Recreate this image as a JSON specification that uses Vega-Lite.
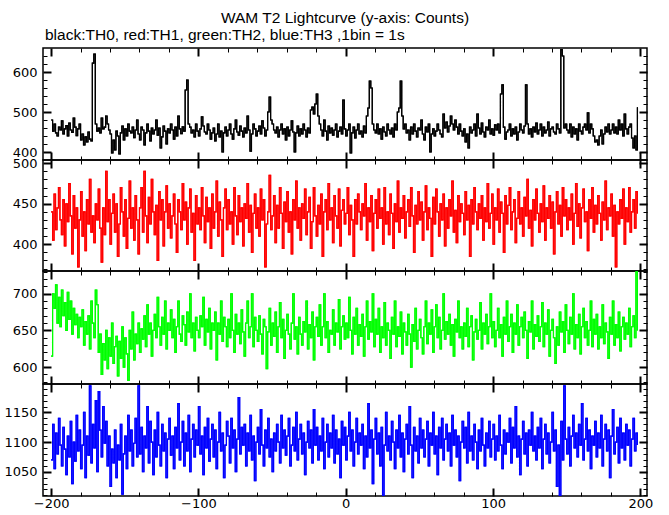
{
"$schema": "https://vega.github.io/schema/vega-lite/v6.json",
"padding": {"left": 3, "top": 11, "right": 5, "bottom": 0},
"background": "white",
"bounds": "flush",
"title": {"text": "WAM T2 Lightcurve (y-axis: Counts)", "anchor": "middle", "frame": "group", "font": "Liberation Sans", "fontSize": 15.5, "fontWeight": "normal", "color": "black", "offset": 0},
"data": {"values": [
{"t":-200,"a":480,"b":440,"c":615,"d":1070},{"t":-199,"a":452,"b":405,"c":700,"d":1130},{"t":-198,"a":470,"b":462,"c":680,"d":1055},{"t":-197,"a":448,"b":418,"c":712,"d":1115},{"t":-196,"a":440,"b":445,"c":660,"d":1080},{"t":-195,"a":462,"b":470,"c":695,"d":1140},{"t":-194,"a":455,"b":430,"c":655,"d":1095},{"t":-193,"a":478,"b":412,"c":705,"d":1060},{"t":-192,"a":445,"b":455,"c":670,"d":1125},{"t":-191,"a":458,"b":398,"c":688,"d":1088},
{"t":-190,"a":466,"b":450,"c":650,"d":1045},{"t":-189,"a":440,"b":428,"c":702,"d":1110},{"t":-188,"a":472,"b":475,"c":665,"d":1075},{"t":-187,"a":455,"b":435,"c":690,"d":1135},{"t":-186,"a":449,"b":388,"c":645,"d":1030},{"t":-185,"a":485,"b":460,"c":680,"d":1100},{"t":-184,"a":462,"b":420,"c":658,"d":1068},{"t":-183,"a":441,"b":445,"c":672,"d":1145},{"t":-182,"a":458,"b":372,"c":640,"d":1085},{"t":-181,"a":470,"b":430,"c":668,"d":1120},
{"t":-180,"a":430,"b":465,"c":655,"d":1055},{"t":-179,"a":445,"b":410,"c":678,"d":1095},{"t":-178,"a":418,"b":440,"c":630,"d":1150},{"t":-177,"a":438,"b":392,"c":662,"d":1040},{"t":-176,"a":425,"b":455,"c":645,"d":1110},{"t":-175,"a":450,"b":425,"c":670,"d":1078},{"t":-174,"a":432,"b":480,"c":625,"d":1195},{"t":-173,"a":428,"b":415,"c":690,"d":1065},{"t":-172,"a":622,"b":435,"c":660,"d":1130},{"t":-171,"a":645,"b":402,"c":640,"d":1090},
{"t":-170,"a":470,"b":450,"c":705,"d":1170},{"t":-169,"a":452,"b":430,"c":685,"d":1050},{"t":-168,"a":460,"b":468,"c":620,"d":1185},{"t":-167,"a":448,"b":420,"c":645,"d":1120},{"t":-166,"a":485,"b":378,"c":590,"d":1075},{"t":-165,"a":458,"b":445,"c":632,"d":1160},{"t":-164,"a":462,"b":412,"c":610,"d":1098},{"t":-163,"a":490,"b":490,"c":650,"d":1135},{"t":-162,"a":470,"b":428,"c":598,"d":1060},{"t":-161,"a":455,"b":455,"c":640,"d":1110},
{"t":-160,"a":445,"b":400,"c":615,"d":1025},{"t":-159,"a":398,"b":438,"c":660,"d":1088},{"t":-158,"a":430,"b":462,"c":605,"d":1065},{"t":-157,"a":405,"b":415,"c":628,"d":1120},{"t":-156,"a":452,"b":450,"c":642,"d":1040},{"t":-155,"a":440,"b":385,"c":588,"d":1095},{"t":-154,"a":395,"b":425,"c":635,"d":1070},{"t":-153,"a":448,"b":470,"c":612,"d":1130},{"t":-152,"a":465,"b":440,"c":655,"d":1012},{"t":-151,"a":430,"b":410,"c":600,"d":1080},
{"t":-150,"a":458,"b":455,"c":640,"d":1110},{"t":-149,"a":440,"b":395,"c":618,"d":1055},{"t":-148,"a":470,"b":432,"c":582,"d":1145},{"t":-147,"a":452,"b":478,"c":650,"d":1085},{"t":-146,"a":448,"b":420,"c":625,"d":1120},{"t":-145,"a":462,"b":445,"c":675,"d":1060},{"t":-144,"a":436,"b":405,"c":610,"d":1098},{"t":-143,"a":455,"b":460,"c":645,"d":1140},{"t":-142,"a":480,"b":430,"c":632,"d":1075},{"t":-141,"a":445,"b":388,"c":660,"d":1195},
{"t":-140,"a":430,"b":445,"c":620,"d":1080},{"t":-139,"a":462,"b":470,"c":652,"d":1125},{"t":-138,"a":455,"b":415,"c":638,"d":1050},{"t":-137,"a":418,"b":490,"c":670,"d":1110},{"t":-136,"a":448,"b":435,"c":628,"d":1090},{"t":-135,"a":470,"b":402,"c":685,"d":1160},{"t":-134,"a":452,"b":458,"c":645,"d":1065},{"t":-133,"a":428,"b":425,"c":660,"d":1135},{"t":-132,"a":460,"b":480,"c":615,"d":1100},{"t":-131,"a":445,"b":440,"c":650,"d":1045},
{"t":-130,"a":455,"b":412,"c":672,"d":1120},{"t":-129,"a":480,"b":448,"c":640,"d":1075},{"t":-128,"a":442,"b":380,"c":695,"d":1150},{"t":-127,"a":460,"b":465,"c":655,"d":1095},{"t":-126,"a":410,"b":430,"c":630,"d":1060},{"t":-125,"a":438,"b":455,"c":668,"d":1130},{"t":-124,"a":465,"b":398,"c":645,"d":1085},{"t":-123,"a":452,"b":440,"c":690,"d":1115},{"t":-122,"a":420,"b":472,"c":625,"d":1040},{"t":-121,"a":458,"b":420,"c":660,"d":1105},
{"t":-120,"a":448,"b":450,"c":650,"d":1140},{"t":-119,"a":470,"b":408,"c":678,"d":1078},{"t":-118,"a":455,"b":435,"c":640,"d":1110},{"t":-117,"a":432,"b":462,"c":665,"d":1055},{"t":-116,"a":462,"b":425,"c":620,"d":1125},{"t":-115,"a":440,"b":390,"c":655,"d":1090},{"t":-114,"a":490,"b":455,"c":690,"d":1165},{"t":-113,"a":458,"b":440,"c":645,"d":1070},{"t":-112,"a":446,"b":418,"c":635,"d":1100},{"t":-111,"a":463,"b":475,"c":670,"d":1135},
{"t":-110,"a":452,"b":430,"c":658,"d":1060},{"t":-109,"a":555,"b":452,"c":630,"d":1115},{"t":-108,"a":580,"b":400,"c":675,"d":1085},{"t":-107,"a":470,"b":445,"c":648,"d":1145},{"t":-106,"a":462,"b":468,"c":700,"d":1050},{"t":-105,"a":448,"b":415,"c":640,"d":1105},{"t":-104,"a":455,"b":438,"c":660,"d":1130},{"t":-103,"a":438,"b":380,"c":622,"d":1075},{"t":-102,"a":470,"b":460,"c":668,"d":1120},{"t":-101,"a":452,"b":425,"c":650,"d":1095},
{"t":-100,"a":440,"b":445,"c":640,"d":1160},{"t":-99,"a":458,"b":418,"c":670,"d":1080},{"t":-98,"a":488,"b":470,"c":655,"d":1110},{"t":-97,"a":465,"b":435,"c":695,"d":1045},{"t":-96,"a":450,"b":402,"c":630,"d":1125},{"t":-95,"a":445,"b":458,"c":665,"d":1090},{"t":-94,"a":470,"b":428,"c":648,"d":1140},{"t":-93,"a":455,"b":445,"c":680,"d":1068},{"t":-92,"a":432,"b":395,"c":625,"d":1105},{"t":-91,"a":448,"b":462,"c":660,"d":1130},
{"t":-90,"a":460,"b":420,"c":650,"d":1075},{"t":-89,"a":428,"b":440,"c":675,"d":1120},{"t":-88,"a":445,"b":478,"c":610,"d":1055},{"t":-87,"a":470,"b":410,"c":660,"d":1100},{"t":-86,"a":438,"b":452,"c":645,"d":1150},{"t":-85,"a":452,"b":430,"c":690,"d":1085},{"t":-84,"a":400,"b":385,"c":635,"d":1115},{"t":-83,"a":448,"b":445,"c":668,"d":1040},{"t":-82,"a":462,"b":468,"c":655,"d":1095},{"t":-81,"a":440,"b":418,"c":628,"d":1135},
{"t":-80,"a":455,"b":455,"c":665,"d":1110},{"t":-79,"a":470,"b":425,"c":640,"d":1065},{"t":-78,"a":445,"b":440,"c":700,"d":1140},{"t":-77,"a":432,"b":400,"c":650,"d":1090},{"t":-76,"a":458,"b":470,"c":620,"d":1120},{"t":-75,"a":480,"b":435,"c":672,"d":1050},{"t":-74,"a":450,"b":412,"c":645,"d":1105},{"t":-73,"a":442,"b":460,"c":660,"d":1175},{"t":-72,"a":465,"b":428,"c":632,"d":1080},{"t":-71,"a":452,"b":445,"c":678,"d":1125},
{"t":-70,"a":438,"b":398,"c":648,"d":1095},{"t":-69,"a":460,"b":450,"c":615,"d":1130},{"t":-68,"a":448,"b":432,"c":660,"d":1060},{"t":-67,"a":490,"b":475,"c":690,"d":1115},{"t":-66,"a":455,"b":415,"c":640,"d":1085},{"t":-65,"a":402,"b":448,"c":655,"d":1145},{"t":-64,"a":445,"b":390,"c":700,"d":1070},{"t":-63,"a":470,"b":438,"c":628,"d":1110},{"t":-62,"a":458,"b":462,"c":668,"d":1035},{"t":-61,"a":440,"b":420,"c":650,"d":1100},
{"t":-60,"a":452,"b":445,"c":635,"d":1125},{"t":-59,"a":465,"b":410,"c":670,"d":1080},{"t":-58,"a":445,"b":468,"c":645,"d":1155},{"t":-57,"a":478,"b":430,"c":618,"d":1095},{"t":-56,"a":460,"b":455,"c":665,"d":1060},{"t":-55,"a":440,"b":372,"c":655,"d":1120},{"t":-54,"a":455,"b":425,"c":598,"d":1090},{"t":-53,"a":500,"b":440,"c":648,"d":1140},{"t":-52,"a":537,"b":485,"c":680,"d":1075},{"t":-51,"a":480,"b":418,"c":630,"d":1105},
{"t":-50,"a":470,"b":435,"c":660,"d":1050},{"t":-49,"a":455,"b":460,"c":642,"d":1115},{"t":-48,"a":448,"b":402,"c":675,"d":1085},{"t":-47,"a":462,"b":448,"c":620,"d":1130},{"t":-46,"a":438,"b":420,"c":655,"d":1100},{"t":-45,"a":455,"b":470,"c":688,"d":1065},{"t":-44,"a":470,"b":438,"c":640,"d":1145},{"t":-43,"a":445,"b":395,"c":665,"d":1090},{"t":-42,"a":458,"b":452,"c":612,"d":1120},{"t":-41,"a":430,"b":428,"c":650,"d":1078},
{"t":-40,"a":462,"b":465,"c":672,"d":1110},{"t":-39,"a":440,"b":415,"c":645,"d":1140},{"t":-38,"a":455,"b":440,"c":625,"d":1060},{"t":-37,"a":478,"b":388,"c":660,"d":1095},{"t":-36,"a":450,"b":455,"c":700,"d":1125},{"t":-35,"a":400,"b":430,"c":638,"d":1085},{"t":-34,"a":448,"b":478,"c":655,"d":1150},{"t":-33,"a":465,"b":420,"c":618,"d":1070},{"t":-32,"a":440,"b":445,"c":668,"d":1105},{"t":-31,"a":458,"b":405,"c":645,"d":1130},
{"t":-30,"a":445,"b":450,"c":630,"d":1080},{"t":-29,"a":470,"b":432,"c":662,"d":1115},{"t":-28,"a":455,"b":468,"c":648,"d":1045},{"t":-27,"a":438,"b":412,"c":690,"d":1100},{"t":-26,"a":460,"b":440,"c":625,"d":1135},{"t":-25,"a":448,"b":458,"c":658,"d":1090},{"t":-24,"a":505,"b":395,"c":640,"d":1120},{"t":-23,"a":512,"b":428,"c":675,"d":1065},{"t":-22,"a":495,"b":470,"c":610,"d":1155},{"t":-21,"a":520,"b":435,"c":655,"d":1095},
{"t":-20,"a":545,"b":410,"c":668,"d":1125},{"t":-19,"a":490,"b":448,"c":642,"d":1070},{"t":-18,"a":470,"b":425,"c":685,"d":1110},{"t":-17,"a":455,"b":462,"c":630,"d":1085},{"t":-16,"a":440,"b":385,"c":655,"d":1140},{"t":-15,"a":480,"b":440,"c":700,"d":1055},{"t":-14,"a":452,"b":455,"c":640,"d":1100},{"t":-13,"a":430,"b":418,"c":662,"d":1130},{"t":-12,"a":465,"b":475,"c":620,"d":1075},{"t":-11,"a":448,"b":430,"c":650,"d":1115},
{"t":-10,"a":460,"b":445,"c":645,"d":1090},{"t":-9,"a":442,"b":402,"c":678,"d":1145},{"t":-8,"a":455,"b":460,"c":630,"d":1065},{"t":-7,"a":470,"b":435,"c":660,"d":1120},{"t":-6,"a":438,"b":420,"c":648,"d":1080},{"t":-5,"a":452,"b":468,"c":692,"d":1105},{"t":-4,"a":462,"b":398,"c":625,"d":1040},{"t":-3,"a":445,"b":442,"c":655,"d":1135},{"t":-2,"a":530,"b":455,"c":670,"d":1095},{"t":-1,"a":458,"b":425,"c":638,"d":1125},
{"t":0,"a":440,"b":438,"c":660,"d":1070},{"t":1,"a":455,"b":470,"c":640,"d":1110},{"t":2,"a":470,"b":412,"c":695,"d":1150},{"t":3,"a":398,"b":448,"c":650,"d":1085},{"t":4,"a":448,"b":430,"c":618,"d":1120},{"t":5,"a":462,"b":385,"c":668,"d":1060},{"t":6,"a":435,"b":455,"c":645,"d":1100},{"t":7,"a":455,"b":425,"c":680,"d":1140},{"t":8,"a":470,"b":462,"c":630,"d":1080},{"t":9,"a":445,"b":440,"c":658,"d":1115},
{"t":10,"a":452,"b":418,"c":642,"d":1095},{"t":11,"a":438,"b":450,"c":672,"d":1130},{"t":12,"a":465,"b":435,"c":615,"d":1055},{"t":13,"a":448,"b":475,"c":655,"d":1110},{"t":14,"a":490,"b":405,"c":690,"d":1075},{"t":15,"a":510,"b":445,"c":638,"d":1165},{"t":16,"a":577,"b":428,"c":662,"d":1090},{"t":17,"a":560,"b":460,"c":648,"d":1120},{"t":18,"a":470,"b":392,"c":700,"d":1030},{"t":19,"a":455,"b":438,"c":628,"d":1105},
{"t":20,"a":448,"b":455,"c":665,"d":1140},{"t":21,"a":470,"b":420,"c":645,"d":1080},{"t":22,"a":445,"b":468,"c":680,"d":1115},{"t":23,"a":458,"b":432,"c":620,"d":1060},{"t":24,"a":432,"b":445,"c":655,"d":1125},{"t":25,"a":462,"b":400,"c":640,"d":1010},{"t":26,"a":450,"b":470,"c":688,"d":1095},{"t":27,"a":440,"b":425,"c":630,"d":1150},{"t":28,"a":470,"b":440,"c":660,"d":1085},{"t":29,"a":455,"b":412,"c":650,"d":1110},
{"t":30,"a":445,"b":462,"c":612,"d":1070},{"t":31,"a":460,"b":438,"c":668,"d":1135},{"t":32,"a":438,"b":395,"c":645,"d":1100},{"t":33,"a":470,"b":450,"c":690,"d":1055},{"t":34,"a":455,"b":428,"c":628,"d":1120},{"t":35,"a":500,"b":478,"c":655,"d":1090},{"t":36,"a":510,"b":415,"c":642,"d":1145},{"t":37,"a":577,"b":445,"c":675,"d":1075},{"t":38,"a":490,"b":432,"c":618,"d":1115},{"t":39,"a":458,"b":460,"c":660,"d":1050},
{"t":40,"a":470,"b":408,"c":648,"d":1105},{"t":41,"a":448,"b":440,"c":630,"d":1130},{"t":42,"a":455,"b":455,"c":672,"d":1080},{"t":43,"a":430,"b":422,"c":645,"d":1160},{"t":44,"a":462,"b":470,"c":600,"d":1095},{"t":45,"a":445,"b":435,"c":658,"d":1040},{"t":46,"a":470,"b":390,"c":635,"d":1125},{"t":47,"a":452,"b":448,"c":680,"d":1085},{"t":48,"a":438,"b":425,"c":625,"d":1110},{"t":49,"a":460,"b":465,"c":650,"d":1065},
{"t":50,"a":455,"b":430,"c":665,"d":1140},{"t":51,"a":480,"b":452,"c":640,"d":1090},{"t":52,"a":445,"b":405,"c":618,"d":1120},{"t":53,"a":430,"b":440,"c":655,"d":1075},{"t":54,"a":462,"b":472,"c":690,"d":1105},{"t":55,"a":450,"b":418,"c":632,"d":1135},{"t":56,"a":470,"b":445,"c":660,"d":1060},{"t":57,"a":400,"b":432,"c":645,"d":1115},{"t":58,"a":445,"b":385,"c":678,"d":1095},{"t":59,"a":458,"b":458,"c":620,"d":1150},
{"t":60,"a":440,"b":425,"c":655,"d":1080},{"t":61,"a":452,"b":468,"c":685,"d":1110},{"t":62,"a":470,"b":440,"c":640,"d":1045},{"t":63,"a":455,"b":410,"c":668,"d":1125},{"t":64,"a":445,"b":450,"c":625,"d":1090},{"t":65,"a":438,"b":430,"c":650,"d":1140},{"t":66,"a":495,"b":462,"c":700,"d":1070},{"t":67,"a":460,"b":398,"c":638,"d":1105},{"t":68,"a":475,"b":445,"c":662,"d":1130},{"t":69,"a":450,"b":420,"c":645,"d":1085},
{"t":70,"a":465,"b":455,"c":672,"d":1115},{"t":71,"a":490,"b":435,"c":630,"d":1060},{"t":72,"a":470,"b":478,"c":658,"d":1145},{"t":73,"a":455,"b":415,"c":615,"d":1095},{"t":74,"a":480,"b":442,"c":665,"d":1120},{"t":75,"a":462,"b":402,"c":648,"d":1075},{"t":76,"a":445,"b":460,"c":690,"d":1110},{"t":77,"a":470,"b":428,"c":640,"d":1035},{"t":78,"a":452,"b":450,"c":655,"d":1100},{"t":79,"a":440,"b":438,"c":625,"d":1135},
{"t":80,"a":458,"b":412,"c":660,"d":1090},{"t":81,"a":425,"b":465,"c":642,"d":1125},{"t":82,"a":445,"b":430,"c":680,"d":1065},{"t":83,"a":410,"b":448,"c":628,"d":1150},{"t":84,"a":462,"b":385,"c":655,"d":1085},{"t":85,"a":448,"b":455,"c":670,"d":1110},{"t":86,"a":455,"b":425,"c":610,"d":1070},{"t":87,"a":470,"b":470,"c":648,"d":1130},{"t":88,"a":440,"b":440,"c":665,"d":1100},{"t":89,"a":495,"b":418,"c":638,"d":1055},
{"t":90,"a":460,"b":450,"c":650,"d":1120},{"t":91,"a":445,"b":432,"c":688,"d":1085},{"t":92,"a":472,"b":460,"c":625,"d":1140},{"t":93,"a":450,"b":405,"c":660,"d":1095},{"t":94,"a":438,"b":445,"c":645,"d":1060},{"t":95,"a":462,"b":428,"c":672,"d":1115},{"t":96,"a":455,"b":475,"c":632,"d":1090},{"t":97,"a":480,"b":420,"c":655,"d":1135},{"t":98,"a":445,"b":438,"c":700,"d":1075},{"t":99,"a":458,"b":462,"c":640,"d":1105},
{"t":100,"a":442,"b":400,"c":662,"d":1130},{"t":101,"a":468,"b":445,"c":628,"d":1070},{"t":102,"a":455,"b":430,"c":650,"d":1110},{"t":103,"a":470,"b":468,"c":680,"d":1085},{"t":104,"a":448,"b":415,"c":640,"d":1145},{"t":105,"a":545,"b":452,"c":658,"d":1095},{"t":106,"a":568,"b":438,"c":615,"d":1055},{"t":107,"a":462,"b":390,"c":668,"d":1120},{"t":108,"a":432,"b":460,"c":645,"d":1080},{"t":109,"a":450,"b":425,"c":690,"d":1115},
{"t":110,"a":455,"b":448,"c":635,"d":1100},{"t":111,"a":470,"b":470,"c":655,"d":1140},{"t":112,"a":440,"b":418,"c":672,"d":1065},{"t":113,"a":458,"b":440,"c":620,"d":1125},{"t":114,"a":445,"b":455,"c":660,"d":1090},{"t":115,"a":462,"b":402,"c":645,"d":1160},{"t":116,"a":430,"b":432,"c":685,"d":1075},{"t":117,"a":450,"b":465,"c":630,"d":1110},{"t":118,"a":470,"b":425,"c":655,"d":1045},{"t":119,"a":455,"b":445,"c":668,"d":1105},
{"t":120,"a":448,"b":410,"c":640,"d":1135},{"t":121,"a":465,"b":458,"c":675,"d":1080},{"t":122,"a":568,"b":435,"c":650,"d":1115},{"t":123,"a":470,"b":480,"c":612,"d":1060},{"t":124,"a":445,"b":420,"c":662,"d":1120},{"t":125,"a":458,"b":442,"c":648,"d":1095},{"t":126,"a":438,"b":398,"c":690,"d":1150},{"t":127,"a":462,"b":455,"c":625,"d":1085},{"t":128,"a":450,"b":430,"c":658,"d":1110},{"t":129,"a":472,"b":468,"c":642,"d":1070},
{"t":130,"a":445,"b":438,"c":670,"d":1125},{"t":131,"a":455,"b":415,"c":635,"d":1090},{"t":132,"a":470,"b":450,"c":655,"d":1140},{"t":133,"a":440,"b":428,"c":688,"d":1055},{"t":134,"a":462,"b":472,"c":628,"d":1105},{"t":135,"a":448,"b":405,"c":660,"d":1130},{"t":136,"a":455,"b":445,"c":645,"d":1080},{"t":137,"a":475,"b":432,"c":678,"d":1115},{"t":138,"a":440,"b":460,"c":615,"d":1065},{"t":139,"a":458,"b":420,"c":650,"d":1100},
{"t":140,"a":462,"b":452,"c":665,"d":1150},{"t":141,"a":450,"b":388,"c":640,"d":1085},{"t":142,"a":445,"b":440,"c":605,"d":1120},{"t":143,"a":470,"b":465,"c":655,"d":1025},{"t":144,"a":458,"b":425,"c":630,"d":1095},{"t":145,"a":448,"b":448,"c":675,"d":1010},{"t":146,"a":656,"b":410,"c":648,"d":1135},{"t":147,"a":640,"b":470,"c":662,"d":1070},{"t":148,"a":460,"b":435,"c":620,"d":1195},{"t":149,"a":470,"b":455,"c":685,"d":1105},
{"t":150,"a":455,"b":418,"c":650,"d":1080},{"t":151,"a":448,"b":445,"c":632,"d":1125},{"t":152,"a":470,"b":430,"c":668,"d":1060},{"t":153,"a":438,"b":462,"c":645,"d":1110},{"t":154,"a":462,"b":400,"c":700,"d":1145},{"t":155,"a":445,"b":438,"c":625,"d":1090},{"t":156,"a":458,"b":475,"c":658,"d":1115},{"t":157,"a":430,"b":422,"c":640,"d":1075},{"t":158,"a":470,"b":450,"c":672,"d":1130},{"t":159,"a":452,"b":408,"c":618,"d":1095},
{"t":160,"a":445,"b":445,"c":655,"d":1165},{"t":161,"a":462,"b":468,"c":680,"d":1070},{"t":162,"a":470,"b":428,"c":640,"d":1105},{"t":163,"a":455,"b":440,"c":662,"d":1140},{"t":164,"a":498,"b":392,"c":630,"d":1085},{"t":165,"a":448,"b":455,"c":650,"d":1120},{"t":166,"a":470,"b":432,"c":690,"d":1055},{"t":167,"a":458,"b":470,"c":628,"d":1110},{"t":168,"a":440,"b":415,"c":665,"d":1095},{"t":169,"a":425,"b":448,"c":645,"d":1135},
{"t":170,"a":430,"b":425,"c":672,"d":1075},{"t":171,"a":418,"b":460,"c":625,"d":1115},{"t":172,"a":440,"b":438,"c":655,"d":1090},{"t":173,"a":455,"b":405,"c":640,"d":1145},{"t":174,"a":420,"b":452,"c":685,"d":1060},{"t":175,"a":445,"b":430,"c":632,"d":1105},{"t":176,"a":462,"b":478,"c":660,"d":1130},{"t":177,"a":450,"b":418,"c":648,"d":1085},{"t":178,"a":470,"b":445,"c":612,"d":1120},{"t":179,"a":445,"b":435,"c":668,"d":1040},
{"t":180,"a":455,"b":462,"c":645,"d":1110},{"t":181,"a":470,"b":410,"c":690,"d":1155},{"t":182,"a":448,"b":448,"c":630,"d":1080},{"t":183,"a":462,"b":372,"c":658,"d":1100},{"t":184,"a":445,"b":440,"c":640,"d":1125},{"t":185,"a":480,"b":425,"c":675,"d":1065},{"t":186,"a":455,"b":455,"c":622,"d":1140},{"t":187,"a":470,"b":432,"c":655,"d":1090},{"t":188,"a":440,"b":468,"c":668,"d":1115},{"t":189,"a":495,"b":400,"c":638,"d":1070},
{"t":190,"a":458,"b":445,"c":660,"d":1130},{"t":191,"a":445,"b":428,"c":645,"d":1095},{"t":192,"a":462,"b":470,"c":680,"d":1120},{"t":193,"a":470,"b":415,"c":628,"d":1060},{"t":194,"a":435,"b":440,"c":655,"d":1105},{"t":195,"a":410,"b":455,"c":670,"d":1140},{"t":196,"a":440,"b":420,"c":640,"d":1085},{"t":197,"a":405,"b":465,"c":730,"d":1115},{"t":198,"a":512,"b":438,"c":650,"d":1095}
]},
"spacing": 0,
"vconcat": [
{
 "title": {"text": "black:TH0, red:TH1, green:TH2, blue:TH3 ,1bin = 1s", "anchor": "start", "frame": "group", "dx": 2, "font": "Liberation Sans", "fontSize": 15.5, "fontWeight": "normal", "color": "black", "offset": 4},
 "width": 604, "height": 112,
 "layer": [
  {"mark": {"type": "line", "interpolate": "step-after", "color": "black", "strokeWidth": 1.2, "clip": true},
   "encoding": {
    "x": {"field": "t", "type": "quantitative", "scale": {"domain": [-205.5, 204.5], "nice": false, "zero": false},
          "axis": {"orient": "bottom", "title": null, "grid": false, "domain": false, "labels": false, "minExtent": 0, "maxExtent": 0, "values": [-200,-180,-160,-140,-120,-100,-80,-60,-40,-20,0,20,40,60,80,100,120,140,160,180,200], "tickColor": "black", "tickSize": {"condition": {"test": "datum.value % 100 === 0", "value": -8}, "value": -4}, "tickWidth": {"condition": {"test": "datum.value % 100 === 0", "value": 2}, "value": 1}}},
    "y": {"field": "a", "type": "quantitative", "scale": {"domain": [380, 660], "nice": false, "zero": false},
          "axis": {"orient": "left", "title": null, "grid": false, "domain": false, "format": "d", "values": [400,420,440,460,480,500,520,540,560,580,600,620,640], "labelExpr": "datum.value % 100 === 0 ? datum.label : ''", "labelFont": "DejaVu Sans", "labelFontSize": 13, "labelColor": "black", "labelPadding": 14, "tickColor": "black", "tickSize": {"condition": {"test": "datum.value % 100 === 0", "value": -8}, "value": -4}, "tickWidth": {"condition": {"test": "datum.value % 100 === 0", "value": 2}, "value": 1}}}
   }},
  {"mark": {"type": "line", "interpolate": "step-after", "color": "black", "strokeWidth": 1.2, "clip": true},
   "encoding": {
    "x": {"field": "t", "type": "quantitative", "axis": {"orient": "top", "title": null, "grid": false, "domain": false, "labels": false, "minExtent": 0, "maxExtent": 0, "values": [-200,-180,-160,-140,-120,-100,-80,-60,-40,-20,0,20,40,60,80,100,120,140,160,180,200], "tickColor": "black", "tickSize": {"condition": {"test": "datum.value % 100 === 0", "value": -8}, "value": -4}, "tickWidth": {"condition": {"test": "datum.value % 100 === 0", "value": 2}, "value": 1}}},
    "y": {"field": "a", "type": "quantitative", "axis": {"orient": "right", "title": null, "grid": false, "domain": false, "labels": false, "minExtent": 0, "maxExtent": 0, "values": [400,420,440,460,480,500,520,540,560,580,600,620,640], "tickColor": "black", "tickSize": {"condition": {"test": "datum.value % 100 === 0", "value": -8}, "value": -4}, "tickWidth": {"condition": {"test": "datum.value % 100 === 0", "value": 2}, "value": 1}}}
   }}
 ],
 "resolve": {"axis": {"x": "independent", "y": "independent"}}
},
{
 "width": 604, "height": 111,
 "layer": [
  {"mark": {"type": "line", "interpolate": "step-after", "color": "#ff0000", "strokeWidth": 1.2, "clip": true},
   "encoding": {
    "x": {"field": "t", "type": "quantitative", "scale": {"domain": [-205.5, 204.5], "nice": false, "zero": false},
          "axis": {"orient": "bottom", "title": null, "grid": false, "domain": false, "labels": false, "minExtent": 0, "maxExtent": 0, "values": [-200,-180,-160,-140,-120,-100,-80,-60,-40,-20,0,20,40,60,80,100,120,140,160,180,200], "tickColor": "black", "tickSize": {"condition": {"test": "datum.value % 100 === 0", "value": -8}, "value": -4}, "tickWidth": {"condition": {"test": "datum.value % 100 === 0", "value": 2}, "value": 1}}},
    "y": {"field": "b", "type": "quantitative", "scale": {"domain": [367, 504], "nice": false, "zero": false},
          "axis": {"orient": "left", "title": null, "grid": false, "domain": false, "format": "d", "values": [370,380,390,400,410,420,430,440,450,460,470,480,490,500], "labelExpr": "datum.value % 50 === 0 ? datum.label : ''", "labelFont": "DejaVu Sans", "labelFontSize": 13, "labelColor": "black", "labelPadding": 14, "tickColor": "black", "tickSize": {"condition": {"test": "datum.value % 50 === 0", "value": -8}, "value": -4}, "tickWidth": {"condition": {"test": "datum.value % 50 === 0", "value": 2}, "value": 1}}}
   }},
  {"mark": {"type": "line", "interpolate": "step-after", "color": "#ff0000", "strokeWidth": 1.2, "clip": true},
   "encoding": {
    "x": {"field": "t", "type": "quantitative", "axis": {"orient": "top", "title": null, "grid": false, "domain": false, "labels": false, "minExtent": 0, "maxExtent": 0, "values": [-200,-180,-160,-140,-120,-100,-80,-60,-40,-20,0,20,40,60,80,100,120,140,160,180,200], "tickColor": "black", "tickSize": {"condition": {"test": "datum.value % 100 === 0", "value": -8}, "value": -4}, "tickWidth": {"condition": {"test": "datum.value % 100 === 0", "value": 2}, "value": 1}}},
    "y": {"field": "b", "type": "quantitative", "axis": {"orient": "right", "title": null, "grid": false, "domain": false, "labels": false, "minExtent": 0, "maxExtent": 0, "values": [370,380,390,400,410,420,430,440,450,460,470,480,490,500], "tickColor": "black", "tickSize": {"condition": {"test": "datum.value % 50 === 0", "value": -8}, "value": -4}, "tickWidth": {"condition": {"test": "datum.value % 50 === 0", "value": 2}, "value": 1}}}
   }}
 ],
 "resolve": {"axis": {"x": "independent", "y": "independent"}}
},
{
 "width": 604, "height": 113,
 "layer": [
  {"mark": {"type": "line", "interpolate": "step-after", "color": "#00ff00", "strokeWidth": 1.2, "clip": true},
   "encoding": {
    "x": {"field": "t", "type": "quantitative", "scale": {"domain": [-205.5, 204.5], "nice": false, "zero": false},
          "axis": {"orient": "bottom", "title": null, "grid": false, "domain": false, "labels": false, "minExtent": 0, "maxExtent": 0, "values": [-200,-180,-160,-140,-120,-100,-80,-60,-40,-20,0,20,40,60,80,100,120,140,160,180,200], "tickColor": "black", "tickSize": {"condition": {"test": "datum.value % 100 === 0", "value": -8}, "value": -4}, "tickWidth": {"condition": {"test": "datum.value % 100 === 0", "value": 2}, "value": 1}}},
    "y": {"field": "c", "type": "quantitative", "scale": {"domain": [577, 731], "nice": false, "zero": false},
          "axis": {"orient": "left", "title": null, "grid": false, "domain": false, "format": "d", "values": [580,590,600,610,620,630,640,650,660,670,680,690,700,710,720,730], "labelExpr": "datum.value % 50 === 0 ? datum.label : ''", "labelFont": "DejaVu Sans", "labelFontSize": 13, "labelColor": "black", "labelPadding": 14, "tickColor": "black", "tickSize": {"condition": {"test": "datum.value % 50 === 0", "value": -8}, "value": -4}, "tickWidth": {"condition": {"test": "datum.value % 50 === 0", "value": 2}, "value": 1}}}
   }},
  {"mark": {"type": "line", "interpolate": "step-after", "color": "#00ff00", "strokeWidth": 1.2, "clip": true},
   "encoding": {
    "x": {"field": "t", "type": "quantitative", "axis": {"orient": "top", "title": null, "grid": false, "domain": false, "labels": false, "minExtent": 0, "maxExtent": 0, "values": [-200,-180,-160,-140,-120,-100,-80,-60,-40,-20,0,20,40,60,80,100,120,140,160,180,200], "tickColor": "black", "tickSize": {"condition": {"test": "datum.value % 100 === 0", "value": -8}, "value": -4}, "tickWidth": {"condition": {"test": "datum.value % 100 === 0", "value": 2}, "value": 1}}},
    "y": {"field": "c", "type": "quantitative", "axis": {"orient": "right", "title": null, "grid": false, "domain": false, "labels": false, "minExtent": 0, "maxExtent": 0, "values": [580,590,600,610,620,630,640,650,660,670,680,690,700,710,720,730], "tickColor": "black", "tickSize": {"condition": {"test": "datum.value % 50 === 0", "value": -8}, "value": -4}, "tickWidth": {"condition": {"test": "datum.value % 50 === 0", "value": 2}, "value": 1}}}
   }}
 ],
 "resolve": {"axis": {"x": "independent", "y": "independent"}}
},
{
 "width": 604, "height": 112,
 "layer": [
  {"mark": {"type": "line", "interpolate": "step-after", "color": "#0000ff", "strokeWidth": 1.2, "clip": true},
   "encoding": {
    "x": {"field": "t", "type": "quantitative", "scale": {"domain": [-205.5, 204.5], "nice": false, "zero": false},
          "axis": {"orient": "bottom", "title": null, "grid": false, "domain": false, "labelFlush": false, "format": "d", "values": [-200,-180,-160,-140,-120,-100,-80,-60,-40,-20,0,20,40,60,80,100,120,140,160,180,200], "labelExpr": "datum.value % 100 === 0 ? datum.label : ''", "labelFont": "DejaVu Sans", "labelFontSize": 13, "labelColor": "black", "labelPadding": 9, "tickColor": "black", "tickSize": {"condition": {"test": "datum.value % 100 === 0", "value": -8}, "value": -4}, "tickWidth": {"condition": {"test": "datum.value % 100 === 0", "value": 2}, "value": 1}}},
    "y": {"field": "d", "type": "quantitative", "scale": {"domain": [1009, 1198], "nice": false, "zero": false},
          "axis": {"orient": "left", "title": null, "grid": false, "domain": false, "format": "d", "values": [1010,1020,1030,1040,1050,1060,1070,1080,1090,1100,1110,1120,1130,1140,1150,1160,1170,1180,1190], "labelExpr": "datum.value % 50 === 0 ? datum.label : ''", "labelFont": "DejaVu Sans", "labelFontSize": 13, "labelColor": "black", "labelPadding": 14, "tickColor": "black", "tickSize": {"condition": {"test": "datum.value % 50 === 0", "value": -8}, "value": -4}, "tickWidth": {"condition": {"test": "datum.value % 50 === 0", "value": 2}, "value": 1}}}
   }},
  {"mark": {"type": "line", "interpolate": "step-after", "color": "#0000ff", "strokeWidth": 1.2, "clip": true},
   "encoding": {
    "x": {"field": "t", "type": "quantitative", "axis": {"orient": "top", "title": null, "grid": false, "domain": false, "labels": false, "minExtent": 0, "maxExtent": 0, "values": [-200,-180,-160,-140,-120,-100,-80,-60,-40,-20,0,20,40,60,80,100,120,140,160,180,200], "tickColor": "black", "tickSize": {"condition": {"test": "datum.value % 100 === 0", "value": -8}, "value": -4}, "tickWidth": {"condition": {"test": "datum.value % 100 === 0", "value": 2}, "value": 1}}},
    "y": {"field": "d", "type": "quantitative", "axis": {"orient": "right", "title": null, "grid": false, "domain": false, "labels": false, "minExtent": 0, "maxExtent": 0, "values": [1010,1020,1030,1040,1050,1060,1070,1080,1090,1100,1110,1120,1130,1140,1150,1160,1170,1180,1190], "tickColor": "black", "tickSize": {"condition": {"test": "datum.value % 50 === 0", "value": -8}, "value": -4}, "tickWidth": {"condition": {"test": "datum.value % 50 === 0", "value": 2}, "value": 1}}}
   }}
 ],
 "resolve": {"axis": {"x": "independent", "y": "independent"}}
}
],
"config": {"view": {"stroke": "black", "strokeWidth": 1.5}}
}
